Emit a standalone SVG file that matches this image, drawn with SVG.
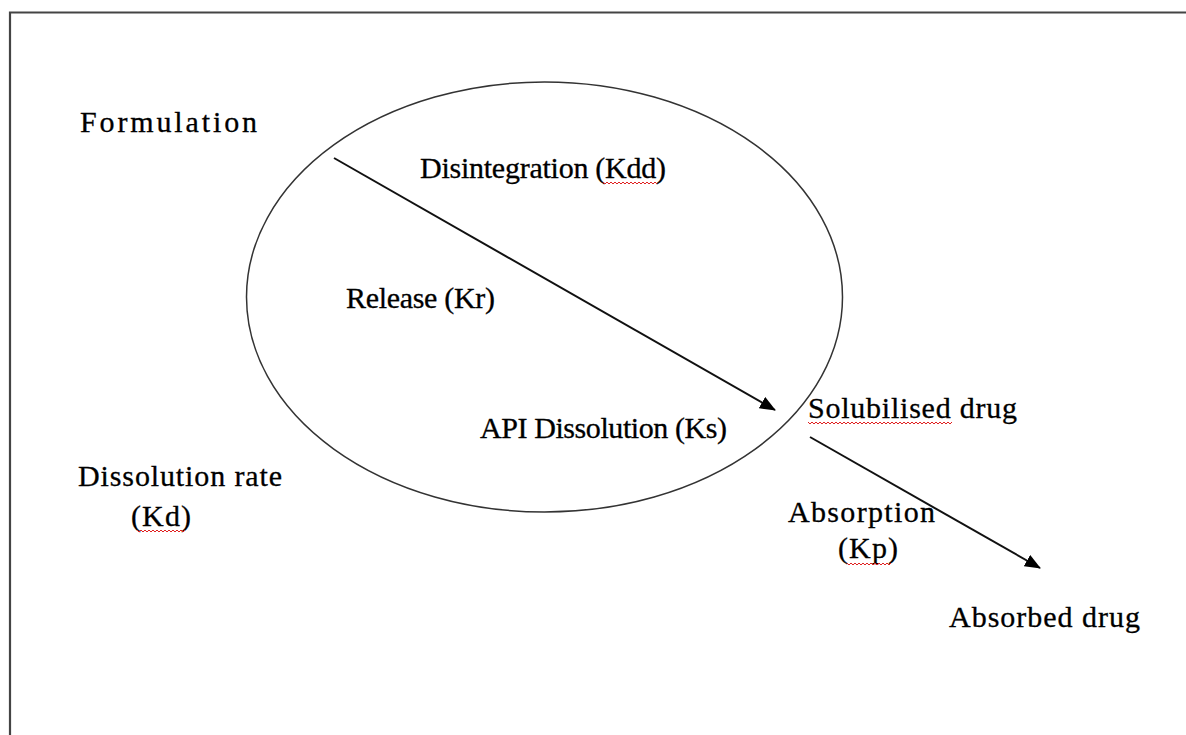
<svg xmlns="http://www.w3.org/2000/svg" width="1186" height="735" viewBox="0 0 1186 735">
<style>
.t{font-family:"Liberation Serif","Times New Roman",serif;font-size:30px;fill:#000;stroke:#000;stroke-width:0.3}
.sq{fill:none;stroke:#e02020;stroke-width:1}
</style>
<defs>
<marker id="ah" markerUnits="userSpaceOnUse" markerWidth="18" markerHeight="14" refX="15" refY="6.5" orient="auto">
<path d="M0,0 L16,6.5 L0,13 Z" fill="#000"/>
</marker>
</defs>
<rect width="1186" height="735" fill="#fff"/>
<path d="M10,740 V12.5 H1190" fill="none" stroke="#444" stroke-width="2.2"/>
<g id="formulation-ellipse">
<ellipse cx="544.5" cy="297" rx="298" ry="215" fill="none" stroke="#333" stroke-width="1.5"/>
</g>
<g id="connectors" stroke="#111" stroke-width="2" fill="none">
<line x1="334" y1="158" x2="775" y2="410" marker-end="url(#ah)"/>
<line x1="810" y1="437" x2="1040" y2="568" marker-end="url(#ah)"/>
</g>
<g id="formulation"><text class="t" x="80" y="132" textLength="177">Formulation</text></g>
<g id="disintegration"><text class="t" x="420" y="178" textLength="246">Disintegration (Kdd)</text>
<path class="sq" d="M603,182 l2,2 l2,-2 l2,2 l2,-2 l2,2 l2,-2 l2,2 l2,-2 l2,2 l2,-2 l2,2 l2,-2 l2,2 l2,-2 l2,2 l2,-2 l2,2 l2,-2 l2,2 l2,-2 l2,2 l2,-2 l2,2 l2,-2 l2,2 l2,-2 l2,2"/></g>
<g id="release"><text class="t" x="346" y="308" textLength="149">Release (Kr)</text></g>
<g id="api-dissolution"><text class="t" x="480" y="438" textLength="247">API Dissolution (Ks)</text></g>
<g id="solubilised"><text class="t" x="808" y="418" textLength="209">Solubilised drug</text>
<path class="sq" d="M808,422 l2,2 l2,-2 l2,2 l2,-2 l2,2 l2,-2 l2,2 l2,-2 l2,2 l2,-2 l2,2 l2,-2 l2,2 l2,-2 l2,2 l2,-2 l2,2 l2,-2 l2,2 l2,-2 l2,2 l2,-2 l2,2 l2,-2 l2,2 l2,-2 l2,2 l2,-2 l2,2 l2,-2 l2,2 l2,-2 l2,2 l2,-2 l2,2 l2,-2 l2,2 l2,-2 l2,2 l2,-2 l2,2 l2,-2 l2,2 l2,-2 l2,2 l2,-2 l2,2 l2,-2 l2,2 l2,-2 l2,2 l2,-2 l2,2 l2,-2 l2,2 l2,-2 l2,2 l2,-2 l2,2 l2,-2 l2,2 l2,-2 l2,2 l2,-2 l2,2 l2,-2 l2,2 l2,-2 l2,2 l2,-2 l2,2 l2,-2"/></g>
<g id="dissolution-rate"><text class="t" x="78" y="486" textLength="204">Dissolution rate</text>
<text class="t" x="131" y="526" textLength="60">(Kd)</text>
<path class="sq" d="M137,530 l2,2 l2,-2 l2,2 l2,-2 l2,2 l2,-2 l2,2 l2,-2 l2,2 l2,-2 l2,2 l2,-2 l2,2 l2,-2 l2,2 l2,-2 l2,2 l2,-2 l2,2 l2,-2 l2,2 l2,-2 l2,2 l2,-2"/></g>
<g id="absorption"><text class="t" x="788" y="522" textLength="147">Absorption</text>
<text class="t" x="838" y="558" textLength="60">(Kp)</text>
<path class="sq" d="M847,563 l2,2 l2,-2 l2,2 l2,-2 l2,2 l2,-2 l2,2 l2,-2 l2,2 l2,-2 l2,2 l2,-2 l2,2 l2,-2 l2,2 l2,-2 l2,2 l2,-2 l2,2 l2,-2 l2,2 l2,-2"/></g>
<g id="absorbed"><text class="t" x="949" y="627" textLength="191">Absorbed drug</text></g>
</svg>
